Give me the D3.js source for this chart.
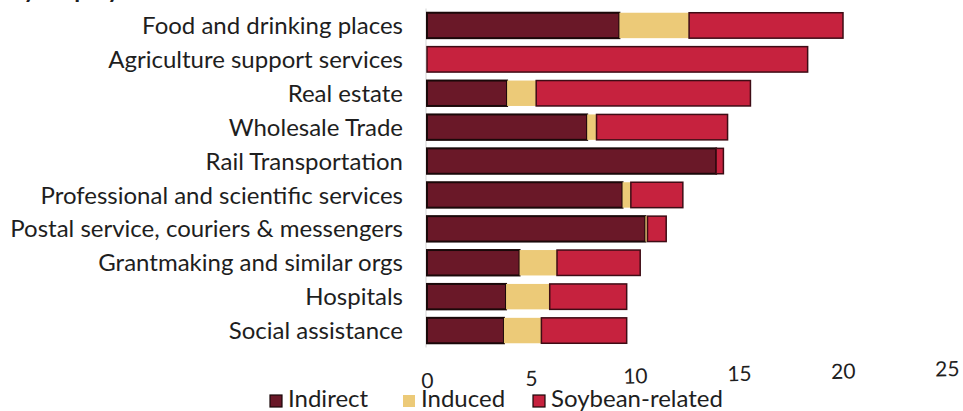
<!DOCTYPE html>
<html>
<head>
<meta charset="utf-8">
<script src="https://cdn.jsdelivr.net/npm/d3@7"></script>
<style>
  html, body { margin: 0; padding: 0; background: #ffffff; }
  svg { display: block; }
  text { font-family: "Lato", "Open Sans", sans-serif; fill: #1e1e1e; }
</style>
</head>
<body>
<svg id="chart" width="963" height="411"></svg>
<script>
// Employment by industry, split into indirect, induced and soybean-related jobs
const categories = [
  "Food and drinking places",
  "Agriculture support services",
  "Real estate",
  "Wholesale Trade",
  "Rail Transportation",
  "Professional and scientific services",
  "Postal service, couriers & messengers",
  "Grantmaking and similar orgs",
  "Hospitals",
  "Social assistance"
];
const indirect = [9.25, 0, 3.85, 7.7, 13.9, 9.4, 10.5, 4.45, 3.8, 3.7];
const induced  = [3.35, 0, 1.4, 0.45, 0, 0.4, 0.1, 1.8, 2.1, 1.8];
const soybean  = [7.4, 18.3, 10.3, 6.3, 0.35, 2.5, 0.9, 4.0, 3.7, 4.1];
const seriesNames = ["Indirect", "Induced", "Soybean-related"];
const xTicks = [0, 5, 10, 15, 20, 25];
const titleText = "By employment";

const fills   = { "Indirect": "#6a1828", "Induced": "#ecca78", "Soybean-related": "#c6223e" };
const strokes = { "Indirect": "#1a0809", "Induced": "none", "Soybean-related": "#3e0c15" };

const rows = categories.map((c, i) => ({
  category: c,
  "Indirect": indirect[i],
  "Induced": induced[i],
  "Soybean-related": soybean[i]
}));

const svg = d3.select("#chart");

const x = d3.scaleLinear().domain([0, 25]).range([427, 947]);
const y = d3.scaleBand().domain(categories).range([8.5, 347.5])
  .paddingInner(0.25).paddingOuter(0.125);

// heading running off the top edge
svg.append("text")
  .attr("x", 8).attr("y", -2)
  .attr("font-size", 24).attr("font-weight", 700)
  .text(titleText);

// faint baseline
svg.append("line")
  .attr("x1", x(0) - 1).attr("x2", x(0) - 1)
  .attr("y1", y.range()[0]).attr("y2", y.range()[1])
  .attr("stroke", "#d4d4d4").attr("stroke-width", 1);

const stacked = d3.stack().keys(seriesNames)(rows);

const layers = svg.append("g").selectAll("g")
  .data(stacked)
  .join("g");

layers.selectAll("rect")
  .data(d => d.map(v => ({ key: d.key, v })).filter(o => o.v[1] - o.v[0] > 0))
  .join("rect")
  .attr("x", o => x(o.v[0]))
  .attr("y", o => y(o.v.data.category))
  .attr("width", o => x(o.v[1]) - x(o.v[0]))
  .attr("height", y.bandwidth())
  .attr("fill", o => fills[o.key])
  .attr("stroke", o => strokes[o.key])
  .attr("stroke-width", o => o.key === "Indirect" ? 2 : 1.5);

// category labels
svg.append("g")
  .selectAll("text")
  .data(categories)
  .join("text")
  .attr("x", 403)
  .attr("y", d => y(d) + y.bandwidth() / 2)
  .attr("dy", "0.36em")
  .attr("text-anchor", "end")
  .attr("font-size", 24)
  .text(d => d);

// value axis (slightly tilted like the printed page)
const axisG = svg.append("g")
  .attr("transform", "translate(0,373) rotate(-1.3," + x(0) + ",8)")
  .call(d3.axisBottom(x).tickValues(xTicks).tickSize(0).tickPadding(0));
axisG.select(".domain").remove();
axisG.selectAll("text")
  .attr("font-size", 21)
  .attr("font-family", "Lato, 'Open Sans', sans-serif")
  .attr("fill", "#1e1e1e")
  .attr("dy", "0.72em");

// legend
const legendX = [270, 403, 533];
const legend = svg.append("g");
seriesNames.forEach((name, i) => {
  legend.append("rect")
    .attr("x", legendX[i]).attr("y", 395)
    .attr("width", 12).attr("height", 12)
    .attr("fill", fills[name])
    .attr("stroke", name === "Induced" ? "none" : "#1a0809")
    .attr("stroke-width", 1.2);
  legend.append("text")
    .attr("x", legendX[i] + 18).attr("y", 407)
    .attr("font-size", 24)
    .text(name);
});
</script>
</body>
</html>
